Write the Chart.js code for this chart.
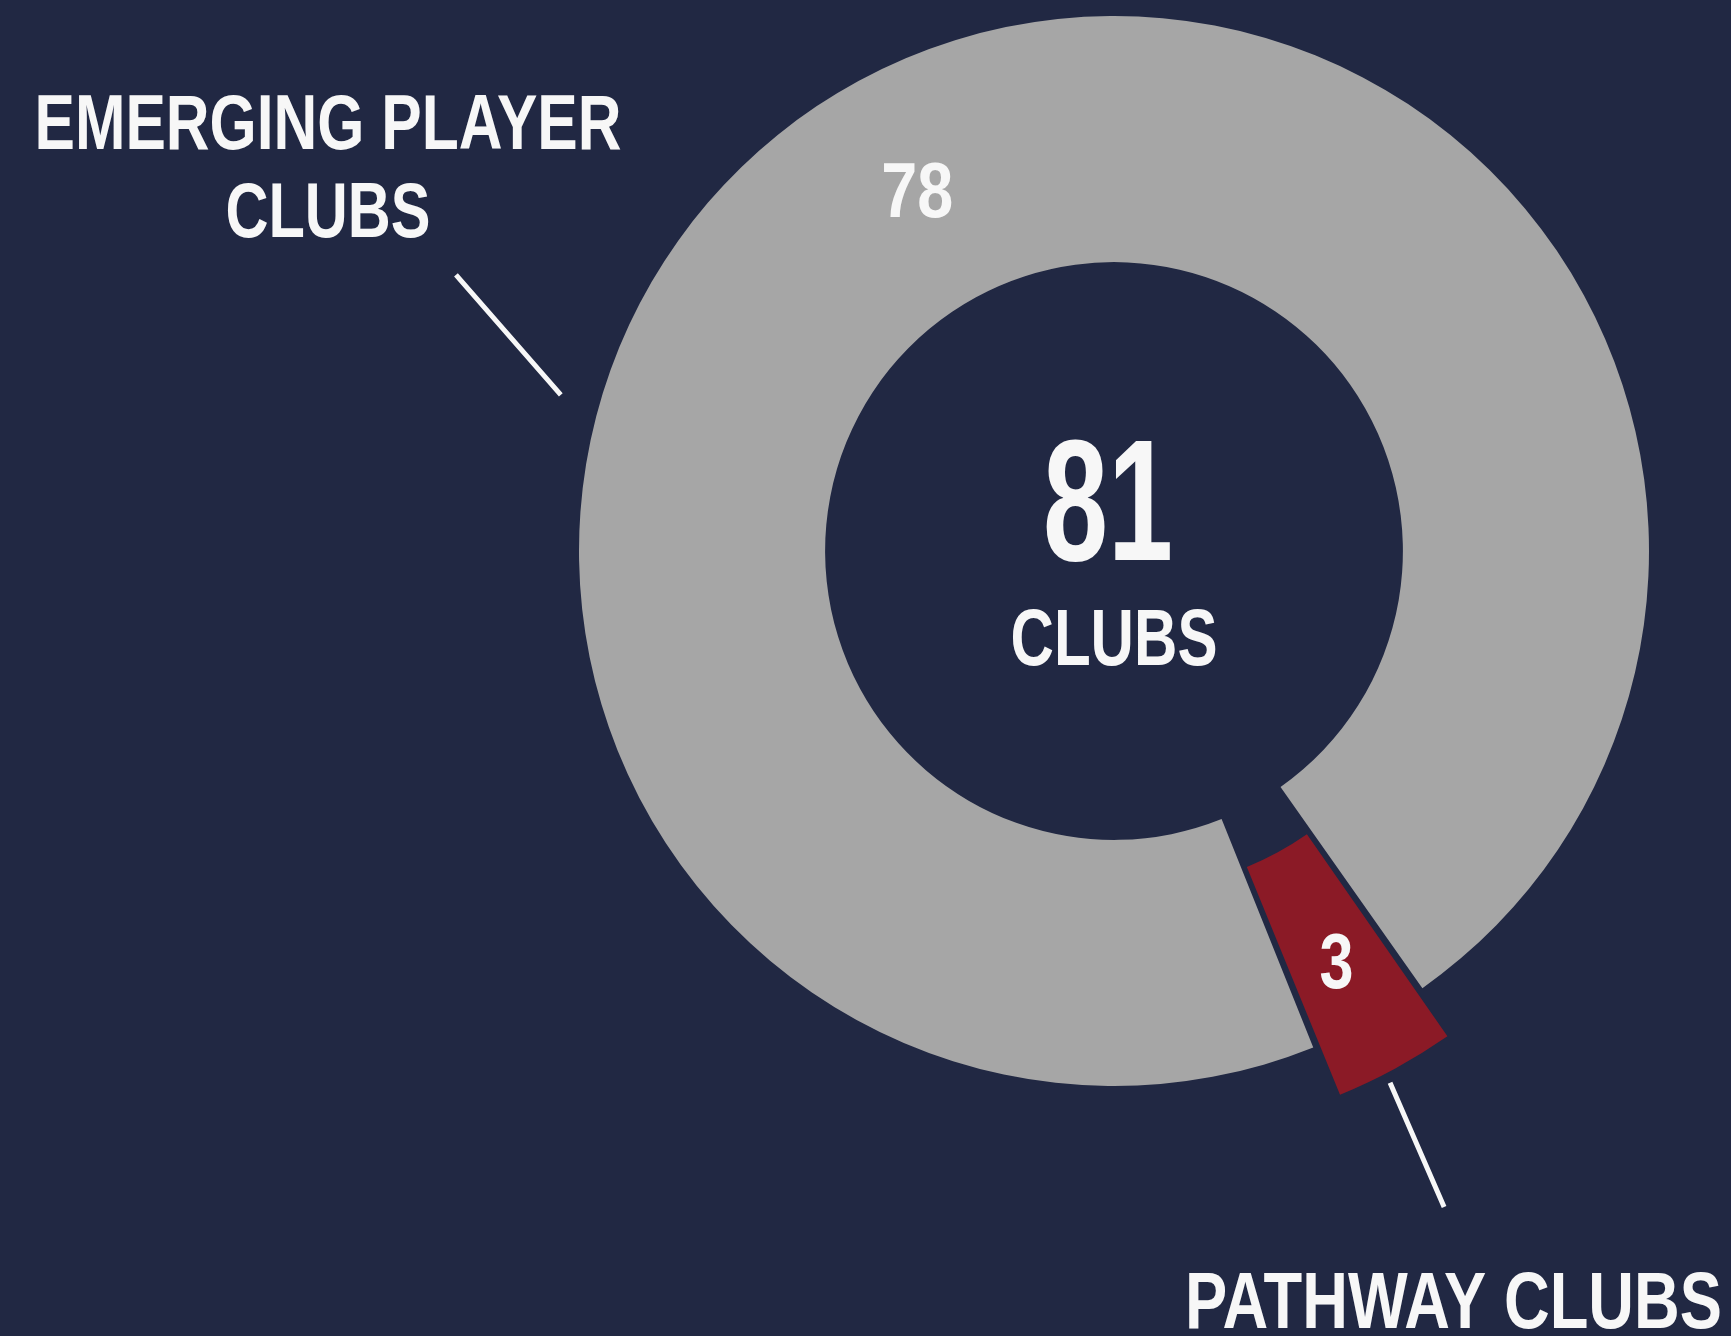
<!DOCTYPE html>
<html>
<head>
<meta charset="utf-8">
<title>Clubs</title>
<script src="https://cdn.jsdelivr.net/npm/chart.js@4.4.1/dist/chart.umd.min.js"></script>
<style>
  html, body { margin: 0; padding: 0; background: #212843; }
  #wrap { width: 1731px; height: 1336px; }
</style>
</head>
<body>
<div id="wrap"><canvas id="clubs" width="1731" height="1336"></canvas></div>
<script>
// data
const categories = ['PATHWAY CLUBS', 'EMERGING PLAYER CLUBS'];
const clubCounts = [3, 78];
const categoryLines = [['PATHWAY CLUBS'], ['EMERGING PLAYER', 'CLUBS']];
const centreWord = 'CLUBS';

const BG = '#212843';
const TEXT = '#f7f7f7';
const sliceColours = ['#8b1a26', '#a6a6a6'];
const FONT = '"Liberation Sans Narrow", "Arial Narrow", sans-serif';
const CAP = 0.716; // cap height / em

function capText(ctx, txt, x, y, size, maxW) {
  // y is the vertical middle of the capitals
  ctx.font = 'bold ' + size + 'px ' + FONT;
  ctx.fillText(txt, x, y + size * CAP / 2, maxW);
}

const labelsPlugin = {
  id: 'clubLabels',
  afterDatasetsDraw(chart) {
    const ctx = chart.ctx;
    const meta = chart.getDatasetMeta(0);
    const first = meta.data[0];
    const cx = first.x, cy = first.y, R = first.outerRadius;
    ctx.save();
    ctx.fillStyle = TEXT;
    ctx.textAlign = 'center';
    ctx.textBaseline = 'alphabetic';

    // value on each slice (follows the slice offset)
    meta.data.forEach((arc, i) => {
      const o = arc.options.offset || 0;
      const mid = (arc.startAngle + arc.endAngle) / 2;
      const fix = 1 - Math.sin(Math.min(Math.PI, arc.circumference));
      const r = (arc.innerRadius + arc.outerRadius) / 2 + o / 4 * (1 + fix);
      capText(ctx, String(clubCounts[i]), cx + Math.cos(mid) * r, cy + Math.sin(mid) * r, 77, i === 0 ? 34 : 72);
    });

    // total in the hole
    const total = clubCounts.reduce((a, b) => a + b, 0);
    capText(ctx, String(total), cx - 6, cy - 53, 173, 130);
    capText(ctx, centreWord, cx, cy + 85, 80, 207);

    // outer category labels
    capText(ctx, categoryLines[1][0], cx - 786, cy - 430, 77, 587);
    capText(ctx, categoryLines[1][1], cx - 786, cy - 342, 77, 205);
    ctx.textAlign = 'right';
    capText(ctx, categoryLines[0][0], cx + 608, cy + 748, 80, 537);

    // leader lines
    ctx.strokeStyle = TEXT;
    ctx.lineWidth = 5;
    ctx.beginPath();
    ctx.moveTo(cx - R * 1.230, cy - R * 0.516);
    ctx.lineTo(cx - R * 1.034, cy - R * 0.292);
    ctx.moveTo(cx + R * 0.516, cy + R * 0.994);
    ctx.lineTo(cx + R * 0.617, cy + R * 1.226);
    ctx.stroke();
    ctx.restore();
  }
};

function make() {
  new Chart(document.getElementById('clubs'), {
    type: 'doughnut',
    data: {
      labels: categories,
      datasets: [{
        data: clubCounts,
        backgroundColor: sliceColours,
        borderWidth: 0,
        offset: [122, 0],
        hoverOffset: 0
      }]
    },
    options: {
      responsive: false,
      animation: false,
      events: [],
      rotation: 144.8,
      cutout: '54%',
      radius: 535,
      layout: { padding: { left: 497, right: 0, top: 0, bottom: 234 } },
      plugins: {
        legend: { display: false },
        tooltip: { enabled: false }
      }
    },
    plugins: [labelsPlugin]
  });
}

if (document.fonts && document.fonts.load) {
  document.fonts.load('bold 40px "Liberation Sans Narrow"').then(make, make);
} else {
  make();
}
</script>
</body>
</html>
